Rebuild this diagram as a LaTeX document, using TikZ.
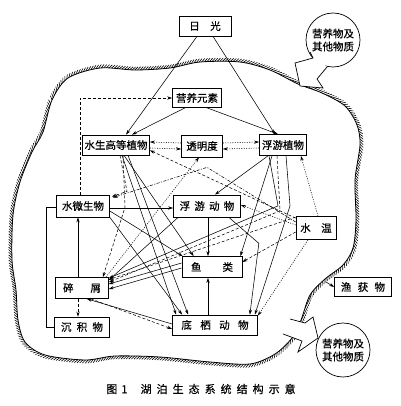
\documentclass[tikz,border=0pt]{standalone}
\usepackage{fontspec}
\setmainfont{Noto Sans CJK SC}[FakeBold=0.5]
\usetikzlibrary{arrows.meta,decorations.pathreplacing,calc}
\begin{document}
\begin{tikzpicture}[x=1pt,y=-1pt,
  box/.style={draw,fill=white,line width=0.7pt,inner sep=1pt,minimum height=20pt,font=\fontsize{10.5}{12}\selectfont},
  bub/.style={draw,fill=white,circle,minimum size=54pt,inner sep=0pt,line width=0.7pt,align=center,font=\fontsize{10.5}{13}\selectfont},
  sol/.style={line width=0.55pt,-{Stealth[length=5pt,width=3.2pt]}},
  dsh/.style={sol,dash pattern=on 3pt off 2pt},
  dot/.style={sol,dash pattern=on 1pt off 1.4pt},
  dd/.style={sol,dash pattern=on 3pt off 1.5pt on 1pt off 1.5pt},
  plain/.style={line width=0.55pt},
  lake/.style={line width=0.8pt,postaction={draw,line width=0.6pt,decorate,decoration={border,segment length=2.6pt,amplitude=4.5pt,angle=45}}}]
\useasboundingbox (0,0) rectangle (400,406);

% lake boundary
\draw[lake] plot[smooth cycle] coordinates {
 (43,132) (52,100) (68,78) (100,68) (135,70) (170,68) (200,62) (240,62) (270,70) (298,84)
 (322,93) (345,106) (357,125) (360,145) (355,180) (356,220) (353,248) (343,265) (325,279)
 (310,295) (301,320) (292,338) (275,354) (250,364) (210,362) (160,357) (115,356) (85,360)
 (45,355) (25,342) (18,320) (16,290) (12,260) (13,215) (20,182) (32,152)};

% bubbles
\node[bub] (b1) at (333,40) {营养物及\\其他物质};
\fill[white] (310,52) -- (313,58) -- (295,63) -- (300,86) -- (323,88) -- (317,79) -- (327,67) -- cycle;
\draw[line width=0.7pt] (310,52) -- (313,58) -- (295,63) -- (300,86) -- (323,88) -- (317,79) -- (327,67);

\node[bub] (b2) at (343,350) {营养物及\\其他物质};
\fill[white] (290,319) -- (305,323) -- (313,317) -- (318,338) -- (298,352) -- (302,341) -- (283,334) -- cycle;
\draw[line width=0.7pt] (290,319) -- (305,323) -- (313,317) -- (318,338) -- (298,352) -- (302,341) -- (283,334);

% nodes
\node[box,minimum width=52pt] (ri) at (205,26) {日\hspace{1em}光};
\node[box,minimum width=49pt,minimum height=19pt] (yy) at (197,98) {营养元素};
\node[box,minimum width=67pt] (sw) at (116,145) {水生高等植物};
\node[box,minimum width=41pt,minimum height=22pt] (tm) at (202,146) {透明度};
\node[box,minimum width=47pt,minimum height=21pt] (fz) at (283,145) {浮游植物};
\node[box,minimum width=53pt,minimum height=22pt] (wm) at (83,206) {水微生物};
\node[box,minimum width=67pt,minimum height=22pt] (fd) at (207,206) {浮\hspace{0.4em}游\hspace{0.4em}动\hspace{0.4em}物};
\node[box,minimum width=40pt,minimum height=23pt] (sh) at (316,228) {水\hspace{1em}温};
\node[box,minimum width=60pt,minimum height=21pt] (yl) at (212,267) {鱼\hspace{2em}类};
\node[box,minimum width=53pt,minimum height=21pt] (sx) at (82,288) {碎\hspace{1.6em}屑};
\node[box,minimum width=55pt] (cj) at (82,327) {沉\hspace{0.5em}积\hspace{0.5em}物};
\node[box,minimum width=85pt] (dq) at (215,325) {底\hspace{0.8em}栖\hspace{0.8em}动\hspace{0.8em}物};
\node[box,minimum width=57pt,minimum height=19pt] (yh) at (363,287) {渔\hspace{0.6em}获\hspace{0.6em}物};
\coordinate (lk) at (326,282);

% caption
\node[font=\fontsize{11}{13}\selectfont] (cap) at (201,389) {图\hspace{4pt}1\hspace{1.2em}湖\hspace{5pt}泊\hspace{5pt}生\hspace{5pt}态\hspace{5pt}系\hspace{5pt}统\hspace{5pt}结\hspace{5pt}构\hspace{5pt}示\hspace{5pt}意};

% sunlight and nutrients
\draw[sol] ($(ri.south)+(-8,0)$) -- ($(sw.north)+(10,0)$);
\draw[sol] ($(ri.south)+(8,0)$) -- ($(fz.north)+(-8,0)$);
\draw[sol] ($(yy.south)+(-12,0)$) -- ($(sw.north)+(16,0)$);
\draw[sol] ($(yy.south)+(10,0)$) -- ($(fz.north)+(-5,0)$);
\draw[dsh] ($(wm.north)+(-3,0)$) |- (yy.west);

% transparency
\draw[dot] ($(tm.west)+(0,-3)$) -- ($(sw.east)+(0,-3)$);
\draw[dot] ($(sw.east)+(0,3)$) -- ($(tm.west)+(0,3)$);
\draw[dot] ($(tm.east)+(0,-3)$) -- ($(fz.west)+(0,-3)$);
\draw[dot] ($(fz.west)+(0,3)$) -- ($(tm.east)+(0,3)$);
\draw[dot] ($(sx.north east)+(-3,0)$) -- ($(tm.south)+(-3,0)$);

% food web
\draw[sol] ($(fz.south)+(-15,0)$) -- ($(fd.north)+(8,0)$);
\draw[sol] ($(wm.east)+(0,2)$) -- ($(fd.west)+(0,2)$);
\draw[sol] ($(sx.north)+(-4,0)$) -- ($(wm.south)+(-5,0)$);
\draw[plain] (cj.west) -| ($(wm.west)+(-10,1)$) -- ($(wm.west)+(0,1)$);
\draw[dsh] ($(sx.south)+(-4,0)$) -- ($(cj.north)+(-4,0)$);
\draw[sol] ($(fd.south)+(1,0)$) -- ($(yl.north)+(-4,0)$);
\draw[sol] ($(dq.north)+(-7,0)$) -- ($(yl.south)+(-4,0)$);
\draw[sol] ($(wm.east)+(0,5)$) -- ($(yl.north west)+(1,0)$);
\draw[sol] (wm.south east) -- ($(dq.north west)+(10,0)$);
\draw[sol] ($(sw.south)+(8,0)$) -- ($(yl.north west)+(12,0)$);
\draw[sol] ($(sw.south)+(6,0)$) -- ($(dq.north west)+(4,0)$);
\draw[sol] ($(sw.south)+(12,0)$) -- ($(dq.north west)+(16,0)$);
\draw[dsh] ($(sw.south)+(4,0)$) -- ($(sw.south)+(11,36)$) -- ($(wm.north east)+(2,2)$);
\draw[dsh] ($(sw.south)+(7,0)$) -- ($(sw.south)+(9,52)$) -- ($(sx.north east)+(-6,0)$);
\draw[sol] ($(fz.south)+(-11,0)$) -- ($(yl.north east)+(-2,0)$);
\draw[sol] ($(fz.south)+(3,0)$) -- ($(fz.south)+(7,50)$) -- ($(dq.north east)+(-3,0)$);
\draw[sol] ($(fd.south east)+(-12,0)$) -- ($(fd.south east)+(18,26)$) -- ($(dq.north east)+(-8,0)$);
\draw[sol] ($(fd.south west)+(5,0)$) -- ($(sx.north east)+(0,3)$);
\draw[sol] ($(fz.south)+(-14,0)$) -- ($(fz.south)+(-5,50)$) -- ($(sx.north east)+(0,1)$);
\draw[dsh] ($(fz.south)+(-6,0)$) -- ($(fz.south)+(-3,55)$) -- ($(sx.north east)+(0,5)$);
\draw[sol] ($(yl.west)+(0,-4)$) -- ($(sx.east)+(0,-4)$);
\draw[sol] ($(yl.west)+(0,1)$) -- ($(sx.east)+(0,1)$);
\draw[sol] ($(dq.west)+(0,-1)$) -- ($(sx.south east)+(-22,0)$);
\draw[dsh] ($(sx.south east)+(-18,0)$) -- ($(dq.west)+(0,4)$);

% water temperature
\draw[dsh] ($(sh.north west)+(0,2)$) -- ($(sw.south east)+(0,-5)$);
\draw[dd] ($(sh.west)+(0,-6)$) -- ($(tm.south)+(5,10)$) -- ($(wm.north east)+(3,3)$);
\draw[dot] ($(sh.north)+(2,0)$) -- ($(fz.south east)+(-6,0)$);
\draw[dot] ($(sh.west)+(0,-3)$) -- ($(fd.east)+(0,-1)$);
\draw[dsh] ($(sh.west)+(0,4)$) -- ($(yl.east)+(0,-5)$);
\draw[dot] ($(sh.south)+(-8,0)$) -- ($(dq.north east)+(0,1)$);
\draw[dsh] ($(sh.north west)+(0,1)$) -- ($(sx.north east)+(0,2.5)$);

% catch
\draw[sol] (lk) -- (yh.west);
\end{tikzpicture}
\end{document}
